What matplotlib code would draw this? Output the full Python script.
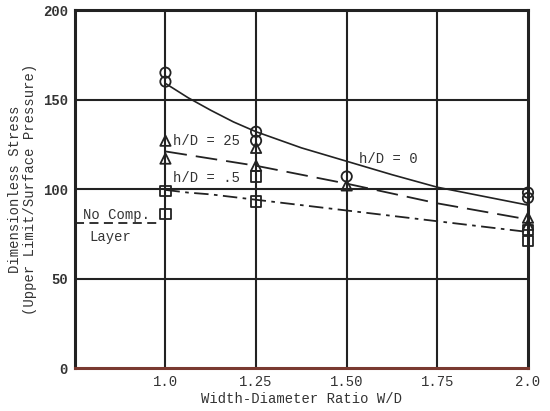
import matplotlib
matplotlib.use("Agg")
import matplotlib.pyplot as plt

# Curves read at grid positions
x_curve = [1.0, 1.0625, 1.125, 1.1875, 1.25, 1.375, 1.5, 1.625, 1.75, 1.875, 2.0]
h0_curve = [159, 151, 144, 137.5, 132, 123, 115.5, 108, 101, 96, 91]
h25_curve = [121, 119, 117, 115, 113, 108, 103, 97.5, 92, 87.5, 83]
h05_curve = [99.5, 98, 97, 95.5, 94, 91, 88, 85, 82, 79, 76]

# Data points
circ_x = [1.0, 1.0, 1.25, 1.25, 1.5, 2.0, 2.0]
circ_y = [165, 160, 132, 127, 107, 98, 95]
tri_x = [1.0, 1.0, 1.25, 1.25, 1.5, 2.0, 2.0]
tri_y = [127, 117, 123, 113, 102, 84, 80]
sq_x = [1.0, 1.0, 1.25, 1.25, 2.0, 2.0]
sq_y = [99, 86, 107, 93, 77, 71]

nocomp_x = [0.75, 0.985]
nocomp_y = [81, 81]

xticks = [1.0, 1.25, 1.50, 1.75, 2.0]
xticklabels = ["1.0", "1.25", "1.50", "1.75", "2.0"]
yticks = [0, 50, 100, 150, 200]

plt.rcParams['font.family'] = ['Liberation Mono', 'DejaVu Sans Mono']

fig = plt.figure(figsize=(5.5, 4.11), dpi=100)
ax = fig.add_axes([0.136, 0.1046, 0.824, 0.871])
ax.set_xlim(0.75, 2.0)
ax.set_ylim(0, 200)

for yv in [50, 100, 150]:
    ax.axhline(yv, color='#222222', lw=1.5, zorder=1)
for xv in [1.0, 1.25, 1.5, 1.75]:
    ax.axvline(xv, color='#222222', lw=1.5, zorder=1)

ax.plot(x_curve, h0_curve, color='#222222', lw=1.2, zorder=2)
ax.plot(x_curve, h25_curve, color='#222222', lw=1.3, dashes=(12, 5), zorder=2)
ax.plot(x_curve, h05_curve, color='#222222', lw=1.3, dashes=(8, 3, 2, 3), zorder=2)
ax.plot(nocomp_x, nocomp_y, color='#222222', lw=1.3, dashes=(5, 3), zorder=2)

mk = dict(facecolor='none', edgecolor='#222222', linewidths=1.3, zorder=3, s=55, clip_on=False)
ax.scatter(circ_x, circ_y, marker='o', **mk)
ax.scatter(tri_x, tri_y, marker='^', **mk)
ax.scatter(sq_x, sq_y, marker='s', **mk)

fs = 10
ax.text(1.02, 127, "h/D = 25", fontsize=fs, va='center', ha='left', color='#333333')
ax.text(1.02, 106, "h/D = .5", fontsize=fs, va='center', ha='left', color='#333333')
ax.text(1.535, 117, "h/D = 0", fontsize=fs, va='center', ha='left', color='#333333')
ax.text(0.772, 85.5, "No Comp.", fontsize=fs, va='center', ha='left', color='#333333')
ax.text(0.79, 73, "Layer", fontsize=fs, va='center', ha='left', color='#333333')

ax.set_xticks(xticks)
ax.set_xticklabels(xticklabels)
ax.set_yticks(yticks)
ax.tick_params(length=0, labelsize=fs, pad=5, colors='#333333')
for lbl in ax.get_yticklabels():
    lbl.set_fontweight('bold')

for s in ['left', 'right', 'top']:
    ax.spines[s].set_linewidth(2.2)
    ax.spines[s].set_color('#222222')
ax.spines['bottom'].set_linewidth(2.2)
ax.spines['bottom'].set_color('#7a3a30')

ax.set_xlabel("Width-Diameter Ratio W/D", fontsize=fs, color='#333333', labelpad=2)
ax.set_ylabel("Dimensionless Stress\n(Upper Limit/Surface Pressure)", fontsize=fs,
              color='#333333', labelpad=4, linespacing=1.1)

fig.savefig("out.png", dpi=100)
